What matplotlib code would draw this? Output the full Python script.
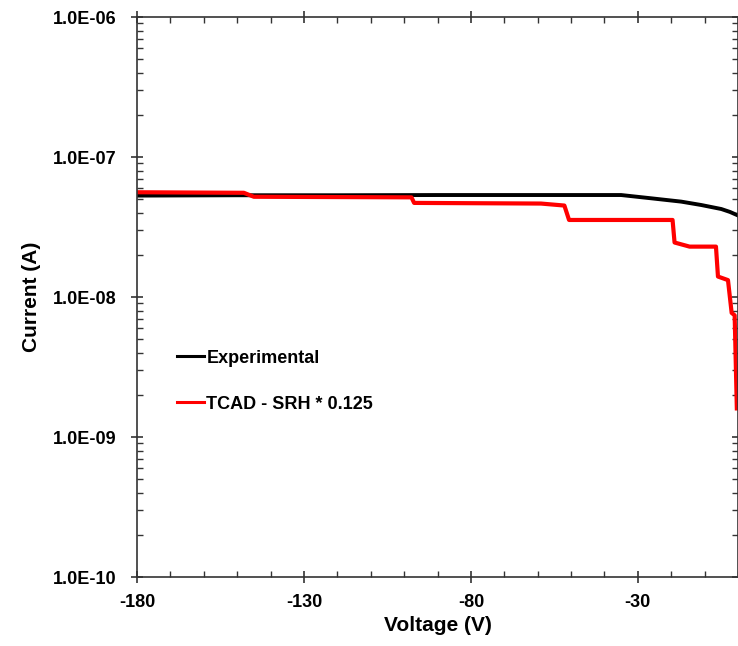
import numpy as np
import matplotlib.pyplot as plt
from matplotlib.ticker import FixedLocator, LogLocator, FuncFormatter, NullFormatter

plt.rcParams['font.family'] = ['Liberation Sans', 'DejaVu Sans']
plt.rcParams['font.weight'] = 'bold'
plt.rcParams['axes.unicode_minus'] = False

# experimental curve
v_exp = [-180, -150, -120, -90, -60, -35, -26, -17, -11, -5, -2.4, -0.3]
i_exp = [5.3e-8, 5.33e-8, 5.33e-8, 5.35e-8, 5.35e-8, 5.35e-8, 5.07e-8, 4.8e-8,
         4.54e-8, 4.25e-8, 4.05e-8, 3.85e-8]

# TCAD simulation
v_tcad = [-180, -148, -145, -97.8, -97.0, -59, -52, -50.6, -19.6, -19.0,
          -14.5, -6.6, -6.0, -3.0, -1.9, -1.0, -0.35]
i_tcad = [5.6e-8, 5.55e-8, 5.2e-8, 5.15e-8, 4.7e-8, 4.65e-8, 4.5e-8, 3.55e-8,
          3.55e-8, 2.45e-8, 2.29e-8, 2.29e-8, 1.40e-8, 1.32e-8, 7.7e-9, 7.4e-9, 1.6e-9]

x_major = [-180, -130, -80, -30]
labels = ['Experimental', 'TCAD - SRH * 0.125']


def sci_fmt(y, pos):
    e = int(round(np.log10(y)))
    return '1.0E-%02d' % (-e) if e < 0 else '1.0E+%02d' % e


fig = plt.figure(figsize=(7.38, 6.46), dpi=100)
ax = fig.add_axes([137/738, 69/646, 601/738, 560/646])

ax.plot(v_exp, i_exp, color='black', lw=2.8, label=labels[0], solid_joinstyle='round')
ax.plot(v_tcad, i_tcad, color='#ff0000', lw=3.0, label=labels[1], solid_joinstyle='round')

ax.set_yscale('log')
ax.set_xlim(-180, 0)
ax.set_ylim(1e-10, 1e-6)

ax.xaxis.set_major_locator(FixedLocator(x_major))
ax.xaxis.set_minor_locator(FixedLocator(np.arange(-180, 1, 10)))
ax.yaxis.set_major_locator(LogLocator(base=10, numticks=10))
ax.yaxis.set_minor_locator(LogLocator(base=10, subs=np.arange(2, 10), numticks=50))
ax.yaxis.set_major_formatter(FuncFormatter(sci_fmt))
ax.yaxis.set_minor_formatter(NullFormatter())

ax.tick_params(which='major', direction='inout', length=9, width=1.2,
               top=True, right=True, labelsize=13, colors='#333333', labelcolor='black')
ax.tick_params(which='minor', direction='in', length=4, width=1.0,
               top=True, right=True, colors='#333333')
ax.tick_params(axis='x', which='major', pad=8)
ax.tick_params(axis='y', which='major', pad=10)
for s in ax.spines.values():
    s.set_linewidth(1.2)
    s.set_color('#333333')

ax.set_xlabel('Voltage (V)', fontsize=15, fontweight='bold', labelpad=3)
ax.set_ylabel('Current (A)', fontsize=15, fontweight='bold', labelpad=9)

leg = ax.legend(loc='upper left', bbox_to_anchor=(0.066, 0.406), frameon=False,
                fontsize=13, handlelength=1.5, handletextpad=0.15,
                labelspacing=1.6, borderpad=0, borderaxespad=0)
for h in leg.get_lines():
    h.set_linewidth(2.2)

fig.savefig('out.png', dpi=100)
